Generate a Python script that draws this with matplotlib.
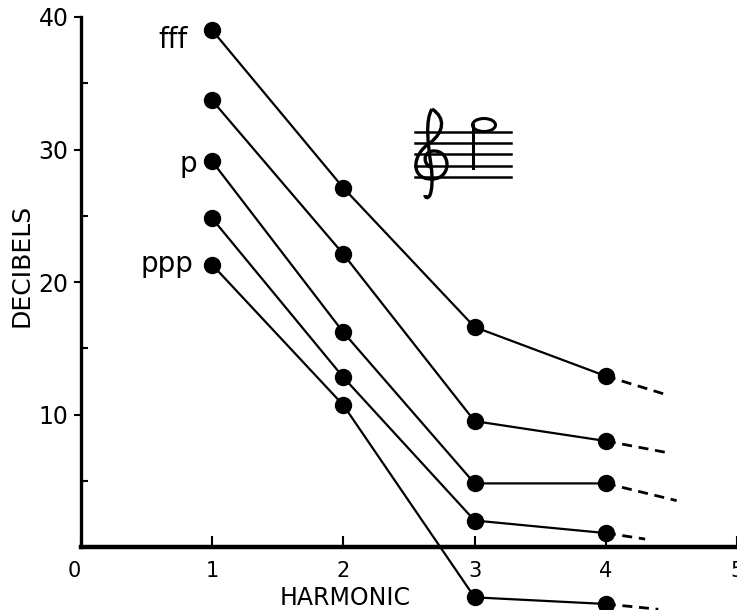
import matplotlib
matplotlib.use("Agg")
import matplotlib.pyplot as plt
from matplotlib.path import Path
from matplotlib.patches import PathPatch, Ellipse

# ---- data ----
harmonic = [1, 2, 3, 4]
fff = [39.0, 27.1, 16.6, 12.9]
mf = [33.7, 22.1, 9.5, 8.0]
p = [29.1, 16.2, 4.8, 4.8]
pp = [24.8, 12.8, 2.0, 1.05]
ppp = [21.3, 10.7, -3.8, -4.3]
series = [fff, mf, p, pp, ppp]
# dashed extrapolation beyond the 4th harmonic
ext_x = [4.46, 4.48, 4.54, 4.30, 4.40]
ext_y = [11.5, 7.1, 3.5, 0.6, -4.7]
# dynamic labels (label, series index)
dyn_labels = [("fff", 0), ("p", 2), ("ppp", 4)]
xticks = [0, 1, 2, 3, 4, 5]
yticks = [10, 20, 30, 40]

plt.rcParams['font.family'] = ['DejaVu Sans']

fig = plt.figure(figsize=(7.37, 6.10), dpi=100)
ax = fig.add_axes([81/737, 63/610, 656/737, 530/610])
ax.set_xlim(0, 5)
ax.set_ylim(0, 40)

for s, ex, ey in zip(series, ext_x, ext_y):
    ax.plot(harmonic, s, color='black', lw=1.6, marker='o', ms=11.5,
            mfc='black', mec='black', clip_on=False, zorder=3)
    ax.plot([harmonic[-1], ex], [s[-1], ey], color='black', lw=2.0,
            dashes=(3.6, 2.4), clip_on=False, zorder=2)

offs = {"fff": (-0.185, -1.34), "p": (-0.116, -0.8), "ppp": (-0.146, -0.55)}
for lab, i in dyn_labels:
    dx, dy = offs[lab]
    ax.text(harmonic[0] + dx, series[i][0] + dy, lab, ha='right',
            va='baseline', fontsize=20)

# axes styling
ax.spines['top'].set_visible(False)
ax.spines['right'].set_visible(False)
ax.spines['left'].set_linewidth(2.4)
ax.spines['bottom'].set_linewidth(3.2)
ax.set_xticks(xticks)
ax.set_xticklabels([str(t) for t in xticks], fontsize=15)
ax.set_yticks(yticks)
ax.set_yticklabels([str(t) for t in yticks], fontsize=17)
ax.set_yticks([5, 15, 25, 35], minor=True)
ax.tick_params(axis='x', direction='in', length=8, width=1.5, pad=10)
ax.tick_params(axis='y', which='major', direction='out', length=5, width=1.5, pad=4)
ax.tick_params(axis='y', which='minor', direction='in', length=5, width=1.5)
ax.get_xticklabels()[0].set_ha('right')

ax.set_xlabel("HARMONIC", fontsize=17)
ax.xaxis.set_label_coords(0.403, -0.074)
ax.set_ylabel("DECIBELS", fontsize=18)
ax.yaxis.set_label_coords(-0.073, 0.532)

# ---- treble clef + staff ornament (pixel-based inset) ----
ins = fig.add_axes([400/737, (610-202)/610, 120/737, 102/610])
ins.set_xlim(400, 520)
ins.set_ylim(202, 100)
ins.axis('off')
for yy in [132, 143, 154, 166, 177]:
    ins.plot([415, 511], [yy, yy], color='black', lw=1.8)
# half note above staff, stem down
ins.add_patch(Ellipse((484, 125), 23, 13, fill=False, ec='black', lw=2.2))
ins.plot([472.5, 472.5], [125, 168], color='black', lw=2.2)
# clef
C = Path.CURVE4
clef = Path(
    [(432, 109), (446, 118), (444, 132), (430, 143),
     (412, 154), (410, 179), (431, 179),
     (452, 180), (452, 150), (433, 151),
     (422, 152), (423, 166), (433, 168)],
    [Path.MOVETO, C, C, C, C, C, C, C, C, C, C, C, C])
ins.add_patch(PathPatch(clef, fill=False, ec='black', lw=2.4))
spine = Path(
    [(432, 109), (425, 120), (428, 145), (431, 165),
     (433, 180), (432, 190), (430, 195),
     (428, 199), (425, 198), (425, 195)],
    [Path.MOVETO, C, C, C, C, C, C, C, C, C])
ins.add_patch(PathPatch(spine, fill=False, ec='black', lw=2.4))

fig.savefig("out.png", dpi=100)
